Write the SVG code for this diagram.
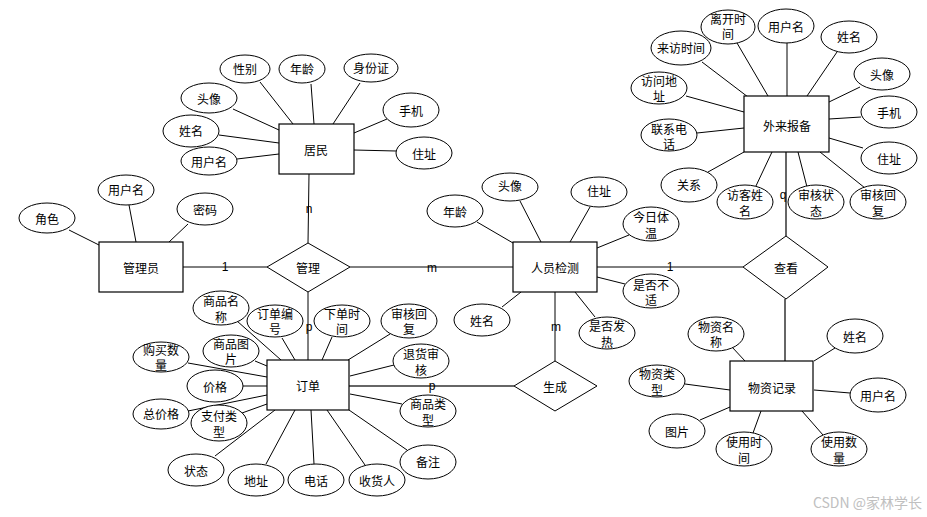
<svg xmlns="http://www.w3.org/2000/svg" width="927" height="517" viewBox="0 0 927 517">
<style>
.e{fill:#fff;stroke:#000;stroke-width:1}
.r{fill:#fff;stroke:#000;stroke-width:1.2}
.t{font-family:"Noto Sans CJK SC","Liberation Sans",sans-serif;font-size:12px;text-anchor:middle;dominant-baseline:central;fill:#000}
.c line{stroke:#000;stroke-width:1}
.c .g{stroke:#666;stroke-width:2}
.lb{font-family:"Liberation Sans",sans-serif;font-size:12px;text-anchor:middle;dominant-baseline:central;fill:#000}
</style>
<rect width="927" height="517" fill="#fff"/>
<g id="connectors" class="c">
<line x1="309" y1="174" x2="308" y2="243"/>
<line x1="183" y1="267" x2="267" y2="267"/>
<line x1="350" y1="267" x2="513" y2="267"/>
<line x1="308" y1="292" x2="308" y2="360"/>
<line class="g" x1="349" y1="386" x2="514" y2="386"/>
<line x1="555" y1="292" x2="555" y2="361"/>
<line x1="597" y1="267" x2="743" y2="267"/>
<line class="g" x1="786" y1="152" x2="786" y2="236"/>
<line class="g" x1="785" y1="299" x2="785" y2="361"/>
<line x1="293" y1="124" x2="260" y2="82"/>
<line x1="314" y1="124" x2="311" y2="84"/>
<line x1="333" y1="124" x2="360" y2="83"/>
<line x1="279" y1="130" x2="233" y2="109"/>
<line x1="279" y1="143" x2="219" y2="135"/>
<line x1="279" y1="154" x2="237" y2="159"/>
<line x1="354" y1="133" x2="387" y2="119"/>
<line x1="354" y1="150" x2="396" y2="151"/>
<line x1="99" y1="245" x2="69" y2="230"/>
<line x1="136" y1="242" x2="129" y2="205"/>
<line x1="169" y1="242" x2="188" y2="224"/>
<line x1="281" y1="360" x2="237" y2="321"/>
<line x1="295" y1="360" x2="282" y2="338"/>
<line x1="322" y1="360" x2="332" y2="337"/>
<line x1="348" y1="360" x2="390" y2="334"/>
<line x1="267" y1="366" x2="255" y2="361"/>
<line x1="267" y1="377" x2="188" y2="363"/>
<line x1="267" y1="386" x2="243" y2="386"/>
<line x1="267" y1="395" x2="188" y2="411"/>
<line x1="267" y1="404" x2="242" y2="413"/>
<line x1="350" y1="376" x2="394" y2="365"/>
<line x1="350" y1="394" x2="402" y2="404"/>
<line x1="275" y1="410" x2="215" y2="456"/>
<line x1="295" y1="410" x2="266" y2="464"/>
<line x1="311" y1="410" x2="314" y2="464"/>
<line x1="327" y1="410" x2="365" y2="465"/>
<line x1="349" y1="410" x2="407" y2="450"/>
<line x1="541" y1="242" x2="520" y2="201"/>
<line x1="570" y1="242" x2="590" y2="207"/>
<line x1="513" y1="243" x2="477" y2="222"/>
<line x1="597" y1="248" x2="629" y2="235"/>
<line x1="597" y1="277" x2="625" y2="284"/>
<line x1="575" y1="292" x2="595" y2="317"/>
<line x1="521" y1="292" x2="502" y2="307"/>
<line x1="768" y1="96" x2="737" y2="43"/>
<line x1="787" y1="96" x2="787" y2="43"/>
<line x1="807" y1="96" x2="837" y2="52"/>
<line x1="748" y1="97" x2="702" y2="62"/>
<line x1="829" y1="102" x2="860" y2="87"/>
<line x1="744" y1="112" x2="686" y2="96"/>
<line x1="829" y1="119" x2="861" y2="117"/>
<line x1="744" y1="128" x2="697" y2="133"/>
<line x1="829" y1="138" x2="863" y2="148"/>
<line x1="744" y1="152" x2="708" y2="172"/>
<line x1="772" y1="152" x2="755" y2="188"/>
<line x1="798" y1="152" x2="807" y2="187"/>
<line x1="820" y1="152" x2="865" y2="188"/>
<line x1="745" y1="361" x2="732" y2="347"/>
<line x1="814" y1="361" x2="835" y2="348"/>
<line x1="730" y1="390" x2="685" y2="384"/>
<line x1="814" y1="390" x2="850" y2="393"/>
<line x1="730" y1="407" x2="700" y2="420"/>
<line x1="761" y1="411" x2="753" y2="433"/>
<line x1="802" y1="411" x2="823" y2="435"/>
<text class="lb" x="309" y="209">n</text>
<text class="lb" x="225" y="267">1</text>
<text class="lb" x="432" y="268">m</text>
<text class="lb" x="309" y="327">p</text>
<text class="lb" x="432" y="386">p</text>
<text class="lb" x="556" y="327">m</text>
<text class="lb" x="670" y="267">1</text>
<text class="lb" x="783" y="195">q</text>
</g>
<g id="jumin"><rect class="r" x="279" y="124" width="75" height="50"/><text class="t" x="316" y="149">居民</text></g>
<g id="guanliyuan"><rect class="r" x="99" y="242" width="84" height="50"/><text class="t" x="141" y="267">管理员</text></g>
<g id="dingdan"><rect class="r" x="267" y="360" width="82" height="50"/><text class="t" x="308" y="385">订单</text></g>
<g id="renyuanjiance"><rect class="r" x="513" y="242" width="84" height="50"/><text class="t" x="555" y="267">人员检测</text></g>
<g id="wailaibaobei"><rect class="r" x="744" y="96" width="85" height="56"/><text class="t" x="787" y="125">外来报备</text></g>
<g id="wuzijilu"><rect class="r" x="730" y="361" width="83" height="50"/><text class="t" x="772" y="387">物资记录</text></g>
<g id="guanli"><polygon class="e" points="267,267 308,243 350,267 308,292"/><text class="t" x="308" y="267">管理</text></g>
<g id="shengcheng"><polygon class="e" points="514,386 555,361 597,386 555,411"/><text class="t" x="555" y="386">生成</text></g>
<g id="chakan"><polygon class="e" points="743,267 786,236 828,267 786,299"/><text class="t" x="786" y="267">查看</text></g>
<g id="jm-xb"><ellipse class="e" cx="245" cy="69" rx="25" ry="14"/><text class="t" x="245" y="68">性别</text></g>
<g id="jm-nl"><ellipse class="e" cx="302" cy="69" rx="23" ry="14"/><text class="t" x="302" y="68">年龄</text></g>
<g id="jm-sfz"><ellipse class="e" cx="371" cy="68" rx="27" ry="14"/><text class="t" x="371" y="67">身份证</text></g>
<g id="jm-tx"><ellipse class="e" cx="209" cy="98" rx="28" ry="15"/><text class="t" x="209" y="98">头像</text></g>
<g id="jm-xm"><ellipse class="e" cx="191" cy="131" rx="28" ry="16"/><text class="t" x="191" y="130">姓名</text></g>
<g id="jm-yhm"><ellipse class="e" cx="209" cy="161" rx="28" ry="14"/><text class="t" x="209" y="161">用户名</text></g>
<g id="jm-sj"><ellipse class="e" cx="411" cy="110" rx="28" ry="17"/><text class="t" x="411" y="110">手机</text></g>
<g id="jm-zz"><ellipse class="e" cx="424" cy="153" rx="28" ry="16"/><text class="t" x="424" y="153">住址</text></g>
<g id="gly-js"><ellipse class="e" cx="47" cy="218" rx="28" ry="15"/><text class="t" x="47" y="218">角色</text></g>
<g id="gly-yhm"><ellipse class="e" cx="126" cy="190" rx="28" ry="15"/><text class="t" x="126" y="189">用户名</text></g>
<g id="gly-mm"><ellipse class="e" cx="205" cy="209" rx="28" ry="16"/><text class="t" x="205" y="209">密码</text></g>
<g id="dd-spmc"><ellipse class="e" cx="221" cy="308" rx="28" ry="17"/><text class="t" x="221" y="300">商品名</text><text class="t" x="221" y="316">称</text></g>
<g id="dd-ddbh"><ellipse class="e" cx="275" cy="321" rx="28" ry="16"/><text class="t" x="275" y="313">订单编</text><text class="t" x="275" y="328">号</text></g>
<g id="dd-xdsj"><ellipse class="e" cx="342" cy="321" rx="28" ry="16"/><text class="t" x="342" y="313">下单时</text><text class="t" x="342" y="328">间</text></g>
<g id="dd-shhf"><ellipse class="e" cx="409" cy="321" rx="28" ry="17"/><text class="t" x="409" y="313">审核回</text><text class="t" x="409" y="328">复</text></g>
<g id="dd-sptp"><ellipse class="e" cx="231" cy="351" rx="28" ry="16"/><text class="t" x="231" y="343">商品图</text><text class="t" x="231" y="358">片</text></g>
<g id="dd-gmsl"><ellipse class="e" cx="161" cy="357" rx="28" ry="15"/><text class="t" x="161" y="349">购买数</text><text class="t" x="161" y="364">量</text></g>
<g id="dd-jg"><ellipse class="e" cx="215" cy="386" rx="28" ry="16"/><text class="t" x="215" y="386">价格</text></g>
<g id="dd-zjg"><ellipse class="e" cx="161" cy="414" rx="28" ry="15"/><text class="t" x="161" y="413">总价格</text></g>
<g id="dd-zflx"><ellipse class="e" cx="219" cy="423" rx="28" ry="18"/><text class="t" x="219" y="415">支付类</text><text class="t" x="219" y="431">型</text></g>
<g id="dd-thsh"><ellipse class="e" cx="421" cy="361" rx="28" ry="17"/><text class="t" x="421" y="353">退货审</text><text class="t" x="421" y="369">核</text></g>
<g id="dd-splx"><ellipse class="e" cx="428" cy="411" rx="28" ry="16"/><text class="t" x="428" y="403">商品类</text><text class="t" x="428" y="419">型</text></g>
<g id="dd-zt"><ellipse class="e" cx="196" cy="470" rx="28" ry="16"/><text class="t" x="196" y="470">状态</text></g>
<g id="dd-dz"><ellipse class="e" cx="256" cy="480" rx="28" ry="16"/><text class="t" x="256" y="480">地址</text></g>
<g id="dd-dh"><ellipse class="e" cx="316" cy="480" rx="28" ry="16"/><text class="t" x="316" y="480">电话</text></g>
<g id="dd-shr"><ellipse class="e" cx="377" cy="480" rx="28" ry="16"/><text class="t" x="377" y="480">收货人</text></g>
<g id="dd-bz"><ellipse class="e" cx="428" cy="462" rx="28" ry="17"/><text class="t" x="428" y="461">备注</text></g>
<g id="ry-tx"><ellipse class="e" cx="510" cy="187" rx="28" ry="14"/><text class="t" x="510" y="185">头像</text></g>
<g id="ry-zz"><ellipse class="e" cx="599" cy="192" rx="28" ry="15"/><text class="t" x="599" y="190">住址</text></g>
<g id="ry-nl"><ellipse class="e" cx="455" cy="211" rx="28" ry="16"/><text class="t" x="455" y="211">年龄</text></g>
<g id="ry-jrtw"><ellipse class="e" cx="651" cy="224" rx="28" ry="17"/><text class="t" x="651" y="216">今日体</text><text class="t" x="651" y="232">温</text></g>
<g id="ry-sfbs"><ellipse class="e" cx="651" cy="291" rx="28" ry="17"/><text class="t" x="651" y="284">是否不</text><text class="t" x="651" y="299">适</text></g>
<g id="ry-sffr"><ellipse class="e" cx="607" cy="333" rx="28" ry="16"/><text class="t" x="607" y="325">是否发</text><text class="t" x="607" y="341">热</text></g>
<g id="ry-xm"><ellipse class="e" cx="482" cy="320" rx="28" ry="16"/><text class="t" x="482" y="320">姓名</text></g>
<g id="wl-lksj"><ellipse class="e" cx="728" cy="27" rx="27" ry="17"/><text class="t" x="728" y="18">离开时</text><text class="t" x="728" y="33">间</text></g>
<g id="wl-yhm"><ellipse class="e" cx="786" cy="26" rx="28" ry="17"/><text class="t" x="786" y="26">用户名</text></g>
<g id="wl-xm"><ellipse class="e" cx="849" cy="37" rx="28" ry="16"/><text class="t" x="849" y="36">姓名</text></g>
<g id="wl-lfsj"><ellipse class="e" cx="681" cy="48" rx="30" ry="17"/><text class="t" x="681" y="47">来访时间</text></g>
<g id="wl-tx"><ellipse class="e" cx="882" cy="74" rx="28" ry="16"/><text class="t" x="882" y="74">头像</text></g>
<g id="wl-fwdz"><ellipse class="e" cx="659" cy="88" rx="28" ry="16"/><text class="t" x="659" y="80">访问地</text><text class="t" x="659" y="95">址</text></g>
<g id="wl-sj"><ellipse class="e" cx="889" cy="112" rx="28" ry="16"/><text class="t" x="889" y="112">手机</text></g>
<g id="wl-lxdh"><ellipse class="e" cx="669" cy="135" rx="28" ry="16"/><text class="t" x="669" y="128">联系电</text><text class="t" x="669" y="143">话</text></g>
<g id="wl-zz"><ellipse class="e" cx="889" cy="158" rx="28" ry="16"/><text class="t" x="889" y="158">住址</text></g>
<g id="wl-gx"><ellipse class="e" cx="689" cy="185" rx="28" ry="17"/><text class="t" x="689" y="184">关系</text></g>
<g id="wl-fkxm"><ellipse class="e" cx="745" cy="202" rx="28" ry="17"/><text class="t" x="745" y="194">访客姓</text><text class="t" x="745" y="210">名</text></g>
<g id="wl-shzt"><ellipse class="e" cx="816" cy="202" rx="28" ry="17"/><text class="t" x="816" y="194">审核状</text><text class="t" x="816" y="210">态</text></g>
<g id="wl-shhf"><ellipse class="e" cx="878" cy="202" rx="28" ry="17"/><text class="t" x="878" y="194">审核回</text><text class="t" x="878" y="210">复</text></g>
<g id="wz-wzmc"><ellipse class="e" cx="716" cy="334" rx="28" ry="17"/><text class="t" x="716" y="326">物资名</text><text class="t" x="716" y="341">称</text></g>
<g id="wz-xm"><ellipse class="e" cx="855" cy="336" rx="28" ry="17"/><text class="t" x="855" y="336">姓名</text></g>
<g id="wz-wzlx"><ellipse class="e" cx="657" cy="381" rx="28" ry="16"/><text class="t" x="657" y="373">物资类</text><text class="t" x="657" y="389">型</text></g>
<g id="wz-yhm"><ellipse class="e" cx="878" cy="395" rx="28" ry="17"/><text class="t" x="878" y="395">用户名</text></g>
<g id="wz-tp"><ellipse class="e" cx="677" cy="431" rx="28" ry="17"/><text class="t" x="677" y="431">图片</text></g>
<g id="wz-sysj"><ellipse class="e" cx="744" cy="449" rx="28" ry="17"/><text class="t" x="744" y="441">使用时</text><text class="t" x="744" y="457">间</text></g>
<g id="wz-sysl"><ellipse class="e" cx="839" cy="449" rx="28" ry="17"/><text class="t" x="839" y="441">使用数</text><text class="t" x="839" y="457">量</text></g>
<text x="922" y="502" font-family="'Noto Sans CJK SC','Liberation Sans',sans-serif" font-size="14" fill="#c0c0c0" text-anchor="end" dominant-baseline="central">CSDN @家林学长</text>
</svg>
